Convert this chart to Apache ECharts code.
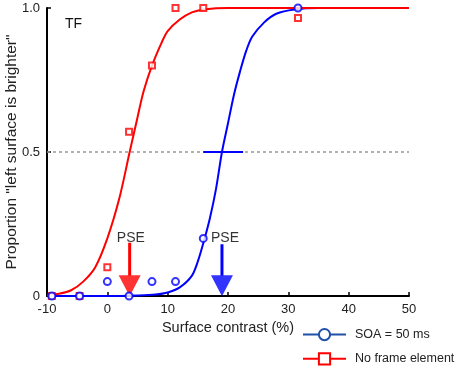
<!DOCTYPE html>
<html>
<head>
<meta charset="utf-8">
<script src="https://cdn.jsdelivr.net/npm/echarts@6/dist/echarts.min.js"></script>
<style>
  html, body { margin: 0; padding: 0; background: #fff; }
  #chart { width: 457px; height: 370px; }
</style>
</head>
<body>
<div id="chart"></div>
<script>
// measured points
var soaX = [-9.2, -4.6, 0, 3.6, 7.4, 11.3, 15.9, 31.6];
var soaY = [0, 0, 0.05, 0, 0.05, 0.05, 0.2, 1.0];
var noFrameX = [-9.2, -4.6, 0, 3.6, 7.4, 11.3, 15.9, 31.6];
var noFrameY = [0, 0, 0.1, 0.57, 0.8, 1.0, 1.0, 0.965];

// fitted curves
var soaFitX = [-10, -5, 0, 5, 8, 10, 12, 14, 15, 16, 17, 18, 19, 20, 21, 22, 23, 24, 26, 28, 31, 35, 50];
var soaFitY = [0, 0, 0, 0.002, 0.005, 0.012, 0.03, 0.07, 0.12, 0.19, 0.27, 0.37, 0.5, 0.6, 0.7, 0.78, 0.85, 0.9, 0.95, 0.98, 0.995, 1, 1];
var noFrameFitX = [-10, -8, -6, -4, -2, 0, 2, 3.7, 5, 6, 7.4, 9, 10, 12, 14, 16, 20, 30, 50];
var noFrameFitY = [0.003, 0.008, 0.02, 0.05, 0.1, 0.2, 0.34, 0.5, 0.62, 0.71, 0.8, 0.88, 0.92, 0.96, 0.985, 0.995, 1, 1, 1];

// PSE and its error bar
var psePoints = [3.7, 19.0];
var soaBarX = [15.9, 22.5];

var xTicks = [-10, 50, 10];
var yTicks = [0, 1, 0.5];

function pairs(xs, ys) {
  var out = [];
  for (var i = 0; i < xs.length; i++) out.push([xs[i], ys[i]]);
  return out;
}

var font = 'Arial, "Liberation Sans", sans-serif';
var red = "#ff0000";
var blue = "#0000ff";

var myChart = echarts.init(document.getElementById("chart"));
var option = {
  animation: false,
  grid: { left: 47, right: 48, top: 8, bottom: 74, outerBoundsMode: "none" },
  legend: {
    orient: "vertical",
    left: 302,
    top: 328,
    padding: 0,
    itemWidth: 43,
    itemHeight: 14,
    itemGap: 11,
    textStyle: { fontFamily: font, fontSize: 12.5, color: "#222", padding: [0, 0, 0, 4] },
    data: [
      { name: "SOA = 50 ms", itemStyle: { color: "#2050a8", borderColor: "#2050a8", borderWidth: 2 }, lineStyle: { color: "#2050a8", width: 2 } },
      { name: "No frame element", itemStyle: { color: red, borderColor: red, borderWidth: 2 }, lineStyle: { color: red, width: 2 } }
    ]
  },
  graphic: [
    { type: "text", left: 65, top: 17, style: { text: "TF", font: "14px " + font, fill: "#111" } }
  ],
  xAxis: {
    type: "value",
    min: xTicks[0],
    max: xTicks[1],
    interval: xTicks[2],
    name: "Surface contrast (%)",
    nameLocation: "middle",
    nameGap: 24,
    nameMoveOverlap: false,
    nameTextStyle: { fontFamily: font, fontSize: 14.5, color: "#222" },
    axisLine: { onZero: false, lineStyle: { color: "#000", width: 2 } },
    axisTick: { inside: true, length: 4, lineStyle: { color: "#000", width: 1.5 } },
    axisLabel: { margin: 7, fontFamily: font, fontSize: 13, color: "#222" },
    splitLine: { show: false }
  },
  yAxis: {
    type: "value",
    min: yTicks[0],
    max: yTicks[1],
    interval: yTicks[2],
    name: 'Proportion "left surface is brighter"',
    nameLocation: "middle",
    nameGap: 27,
    nameMoveOverlap: false,
    nameTextStyle: { fontFamily: font, fontSize: 15.5, color: "#222" },
    axisLine: { onZero: false, lineStyle: { color: "#000", width: 2 } },
    axisTick: { inside: true, length: 4, lineStyle: { color: "#000", width: 1.5 } },
    axisLabel: {
      margin: 7, fontFamily: font, fontSize: 13, color: "#222",
      formatter: function (v) { return v === 0 ? "0" : v.toFixed(1); }
    },
    splitLine: { show: false }
  },
  series: [
    {
      name: "SOA = 50 ms",
      type: "line",
      data: pairs(soaFitX, soaFitY),
      smooth: 0.3,
      symbol: "emptyCircle",
      showSymbol: false,
      lineStyle: { color: blue, width: 2 },
      itemStyle: { color: blue },
      z: 3,
      markLine: {
        silent: true,
        symbol: "none",
        label: { show: false },
        lineStyle: { color: "#999", type: [3, 3], width: 1.5 },
        data: [{ yAxis: 0.5 }],
        z: 1
      }
    },
    {
      name: "No frame element",
      type: "line",
      data: pairs(noFrameFitX, noFrameFitY),
      smooth: 0.3,
      symbol: "emptyRect",
      showSymbol: false,
      lineStyle: { color: red, width: 2 },
      itemStyle: { color: red },
      z: 3
    },
    {
      type: "line",
      data: pairs(soaBarX, [0.5, 0.5]),
      symbol: "none",
      lineStyle: { color: blue, width: 2 },
      z: 3
    },
    // PSE arrows
    {
      type: "line",
      data: [[psePoints[0], 0.185], [psePoints[0], 0.07]],
      symbol: "none",
      lineStyle: { color: red, width: 3 },
      z: 2
    },
    {
      type: "line",
      data: [[psePoints[1], 0.18], [psePoints[1], 0.07]],
      symbol: "none",
      lineStyle: { color: blue, width: 3 },
      z: 2
    },
    {
      type: "scatter",
      data: [[psePoints[0], 0.036]],
      symbol: "triangle",
      symbolRotate: 180,
      symbolSize: [22, 21],
      itemStyle: { color: red },
      z: 2,
      silent: true
    },
    {
      type: "scatter",
      data: [[psePoints[1], 0.036]],
      symbol: "triangle",
      symbolRotate: 180,
      symbolSize: [22, 21],
      itemStyle: { color: blue },
      z: 2,
      silent: true
    },
    {
      type: "scatter",
      data: [[psePoints[0] + 0.2, 0.2], [psePoints[1] + 0.5, 0.2]],
      symbolSize: 0,
      label: {
        show: true,
        position: "inside",
        formatter: "PSE",
        fontFamily: font,
        fontSize: 14,
        color: "#000",
        textBorderWidth: 0
      },
      z: 4
    },
    {
      type: "scatter",
      data: pairs(noFrameX, noFrameY),
      symbol: "emptyRect",
      symbolSize: 6,
      itemStyle: { color: red, borderColor: red, borderWidth: 2 },
      z: 5
    },
    {
      type: "scatter",
      data: pairs(soaX, soaY),
      symbol: "emptyCircle",
      symbolSize: 7,
      itemStyle: { color: blue, borderColor: blue, borderWidth: 2 },
      z: 6
    }
  ]
};
myChart.setOption(option);
window.addEventListener("resize", function () {
  myChart.resize();
});
</script>
</body>
</html>
